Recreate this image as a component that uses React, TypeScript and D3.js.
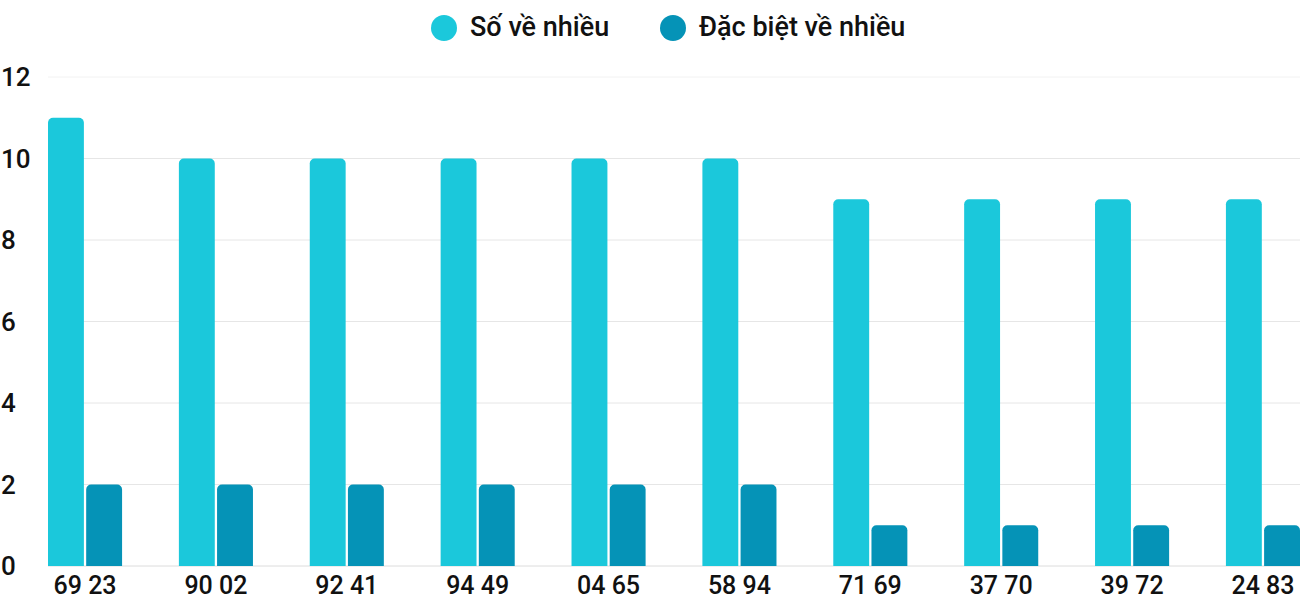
import React from "react";
import * as d3 from "d3";

const categories = ["69 23", "90 02", "92 41", "94 49", "04 65", "58 94", "71 69", "37 70", "39 72", "24 83"];
const seriesNames = ["Số về nhiều", "Đặc biệt về nhiều"];
const soVeNhieu = [11, 10, 10, 10, 10, 10, 9, 9, 9, 9];
const dacBietVeNhieu = [2, 2, 2, 2, 2, 2, 1, 1, 1, 1];
const yTicks = [0, 2, 4, 6, 8, 10, 12];
const colors = ["#1bc8db", "#0593b7"];

const W = 1300;
const H = 600;
const left = 48;
const right = 1300;
const top = 77;
const bottom = 566;
const FONT = "Roboto, sans-serif";

function topRoundedRect(x: number, y: number, w: number, h: number, r: number) {
  const rr = Math.min(r, h, w / 2);
  const p = d3.path();
  p.moveTo(x, y + h);
  p.lineTo(x, y + rr);
  p.arcTo(x, y, x + rr, y, rr);
  p.lineTo(x + w - rr, y);
  p.arcTo(x + w, y, x + w, y + rr, rr);
  p.lineTo(x + w, y + h);
  p.closePath();
  return p.toString();
}

export default function App() {
  const x0 = d3.scaleBand<string>().domain(categories).range([left, right]).paddingInner(0.434).paddingOuter(0);
  const x1 = d3.scaleBand<number>().domain([0, 1]).range([0, x0.bandwidth()]).paddingInner(0.06);
  const y = d3.scaleLinear().domain([0, 12]).range([bottom, top]);
  const series = [soVeNhieu, dacBietVeNhieu];

  return (
    <svg width={W} height={H} style={{ position: "absolute", left: 0, top: 0, background: "#fff" }}>
      {yTicks.map((t) => (
        <g key={t}>
          <line x1={left} x2={right} y1={y(t)} y2={y(t)} stroke={t === 0 ? "#dcdcdc" : t === 12 ? "#f2f2f2" : "#e6e6e6"} strokeWidth={1} />
          <text x={1} y={y(t)} dy="0.36em" fontFamily={FONT} fontSize={26} fontWeight={500} fill="#111">
            {t}
          </text>
        </g>
      ))}
      {categories.map((c, i) => (
        <g key={c}>
          {series.map((s, j) => {
            const bx = (x0(c) as number) + (x1(j) as number);
            const by = y(s[i]);
            return (
              <path
                key={j}
                d={topRoundedRect(bx, by, x1.bandwidth(), y(0) - by, 5)}
                fill={colors[j]}
              />
            );
          })}
          <text
            x={(x0(c) as number) + x0.bandwidth() / 2}
            y={594}
            textAnchor="middle"
            fontFamily={FONT}
            fontSize={25}
            fontWeight={500}
            fill="#111"
          >
            {c}
          </text>
        </g>
      ))}
      {seriesNames.map((n, j) => {
        const cx = j === 0 ? 444 : 673;
        return (
          <g key={n}>
            <circle cx={cx} cy={28} r={13} fill={colors[j]} />
            <text x={cx + 26} y={36} fontFamily={FONT} fontSize={27} fontWeight={500} fill="#111">
              {n}
            </text>
          </g>
        );
      })}
    </svg>
  );
}
